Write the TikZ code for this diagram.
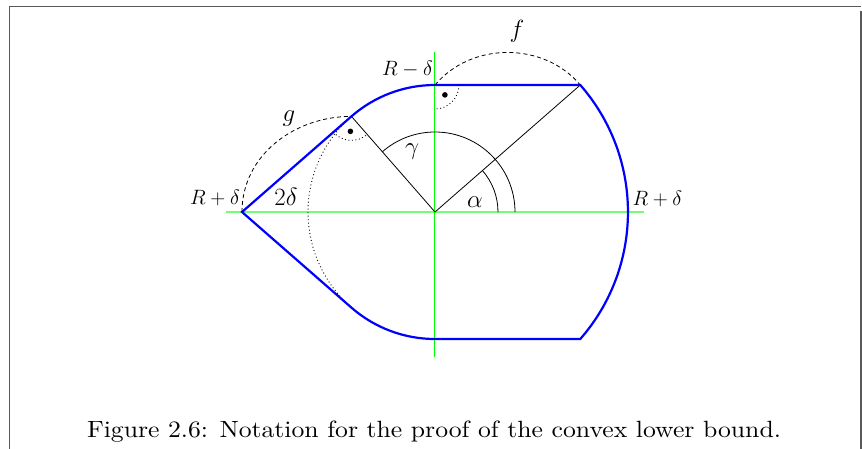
\documentclass[tikz,border=0pt]{standalone}
\usepackage{amsmath}
\usetikzlibrary{calc}
\begin{document}
\begin{tikzpicture}[x=1pt,y=1pt,
  blueline/.style={blue,line width=2.2pt,line join=miter},
  thinline/.style={black,line width=0.8pt},
  axisline/.style={green!55!white,line width=1.8pt},
  vaxis/.style={green,line width=1pt},
  dashline/.style={black,line width=0.8pt,dash pattern=on 4pt off 3pt},
  dotline/.style={black,line width=0.9pt,dash pattern=on 0.9pt off 2.6pt},
  biglbl/.style={inner sep=0pt,font=\fontsize{24}{28}\selectfont},
  rlbl/.style={inner sep=0pt,font=\fontsize{19.5}{23}\selectfont},
  framebox/.style={draw=black!65,line width=1.5pt}]
\useasboundingbox (-435,-236) rectangle (427,212);
\draw[framebox] (-425.5,205.5) -- (426,205.5) (426,201) -- (426,-250) (-425.5,205.5) -- (-425.5,-250);
% key points
\coordinate (O) at (0,0);
\coordinate (L) at (-193,0);
\coordinate (T1) at (131.15:127);
\coordinate (T0) at (0,127);
\coordinate (T2) at (145.3,127);
\coordinate (B0) at (0,-127);
\coordinate (HL) at (-209,0);
\coordinate (HR) at (209,0);
\coordinate (VT) at (0,160);
\coordinate (VB) at (0,-145);
% axes
\draw[axisline] (HL) -- (HR);
\draw[vaxis] (VT) -- (VB);
% dotted inner arc
\draw[dotline] (T1) arc[start angle=131.15,end angle=228.85,radius=127];
% angle arcs
\draw[thinline] (80,0) arc[start angle=0,end angle=131.15,radius=80];
\draw[thinline] (63,0) arc[start angle=0,end angle=41.15,radius=63];
% radii
\draw[thinline] (O) -- (T1);
\draw[thinline] (O) -- (T2);
% boundary
\draw[blueline] (L) -- (T1) arc[start angle=131.15,end angle=90,radius=127] -- (T2)
  arc[start angle=41.15,end angle=-41.15,radius=193] -- (B0)
  arc[start angle=270,end angle=228.85,radius=127] -- cycle;
% dashed arcs
\draw[dashline] (T0) to[bend left=50] (T2);
\draw[dashline] (L) to[out=90,in=180] (T1);
% right angle marks
\draw[dotline] ($(T0)+(24,0)$) arc[start angle=0,end angle=-90,radius=24];
\fill ($(T0)+(-45:14)$) circle (2.8);
\draw[dotline] ($(T1)+(221.15:24)$) arc[start angle=221.15,end angle=311.15,radius=24];
\fill ($(T1)+(266.15:15)$) circle (2.8);
% labels
\node[rlbl,anchor=base east] (lRl) at (-195,8) {$R+\delta$};
\node[rlbl,anchor=base west] (lRr) at (197.5,7) {$R+\delta$};
\node[rlbl,anchor=base east] (lRt) at (-2,137) {$R-\delta$};
\node[biglbl,anchor=base] (lf) at (82,175) {$f$};
\node[biglbl,anchor=base] (lg) at (-146,91) {$g$};
\node[biglbl,anchor=base] (l2d) at (-149,7) {$2\delta$};
\node[biglbl,anchor=base] (lga) at (-23,58) {$\gamma$};
\node[biglbl,anchor=base] (lal) at (40,5) {$\alpha$};
\node[inner sep=0pt,anchor=base,xscale=2.57,yscale=2.35,font=\normalsize] (cap) at (-1,-225) {Figure 2.6: Notation for the proof of the convex lower bound.};
\end{tikzpicture}
\end{document}
